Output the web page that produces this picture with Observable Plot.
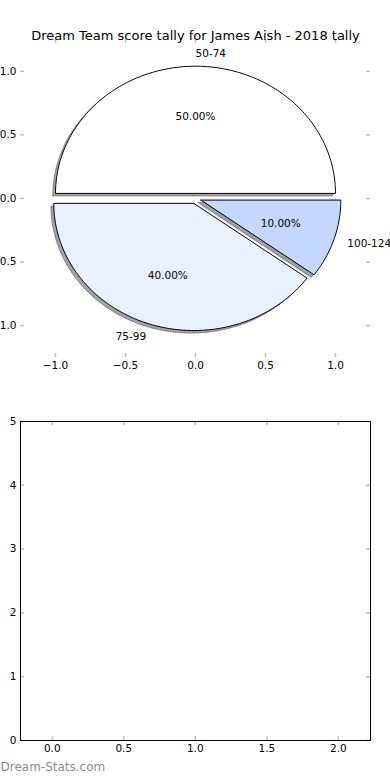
<!DOCTYPE html>
<html><head><meta charset="utf-8">
<script src="https://cdn.jsdelivr.net/npm/d3@7"></script>
<script src="https://cdn.jsdelivr.net/npm/@observablehq/plot@0.6"></script>
<style>
body{margin:0;background:#fff;}
#wrap{position:relative;width:390px;height:780px;overflow:hidden;background:#fff;}
#wrap svg{position:absolute;left:0;overflow:visible;}
</style></head><body><div id="wrap"></div>
<script>
// ---- data ----
const titleText = "Dream Team score tally for James Aish - 2018 tally";
const categories = ["50-74", "75-99", "100-124"];
const shares = [50, 40, 10];
const sliceColors = ["#ffffff", "#eaf0fe", "#c4d7ff"];
const explode = [0.04, 0.04, 0.04];
const pieTicks = [-1, -0.5, 0, 0.5, 1];
const emptyXTicks = [0, 0.5, 1, 1.5, 2];
const emptyYTicks = [0, 1, 2, 3, 4, 5];
const watermark = "Dream-Stats.com";

// ---- style ----
const FONT = "DejaVu Sans";
const tickGray = "#c0c0c0";
const W = 390;

// ---- pie geometry (matplotlib-like: start 0, counterclockwise) ----
const total = d3.sum(shares);
let acc = 0;
const slices = categories.map((c, i) => {
  const a0 = acc / total * 2 * Math.PI; acc += shares[i];
  const a1 = acc / total * 2 * Math.PI;
  const mid = (a0 + a1) / 2;
  const rgb = d3.rgb(sliceColors[i]);
  const shadow = d3.rgb(rgb.r * 0.3, rgb.g * 0.3, rgb.b * 0.3).formatHex();
  return {c, i, a0, a1, mid, ox: explode[i] * Math.cos(mid), oy: explode[i] * Math.sin(mid),
          pct: shares[i] / total * 100, color: sliceColors[i], shadow};
});
function wedge(s, dx, dy) {
  const pts = [{x: s.ox + dx, y: s.oy + dy}];
  const n = Math.ceil((s.a1 - s.a0) / (2 * Math.PI) * 360);
  for (let k = 0; k <= n; k++) {
    const a = s.a0 + (s.a1 - s.a0) * k / n;
    pts.push({x: s.ox + dx + Math.cos(a), y: s.oy + dy + Math.sin(a)});
  }
  pts.push({x: s.ox + dx, y: s.oy + dy});
  return pts.map(p => ({...p, c: s.c, color: s.color, shadow: s.shadow}));
}
const wedgePts = slices.flatMap(s => wedge(s, 0, 0));
const shadowPts = slices.flatMap(s => wedge(s, -0.02, -0.02));
const catLabels = slices.map(s => {
  const x = s.ox + 1.1 * Math.cos(s.mid), y = s.oy + 1.1 * Math.sin(s.mid);
  return {x, y, text: s.c, anchor: x > 0 ? "start" : "end"};
});
const pctLabels = slices.map(s => ({
  x: s.ox + 0.6 * Math.cos(s.mid), y: s.oy + 0.6 * Math.sin(s.mid), text: s.pct.toFixed(2) + "%"
}));

const fmt1 = d3.format(".1f");

// ---- top: pie ----
const topH = 380, topMT = 39, topMB = 23, ML = 20, MR = 20;
const topFH = topH - topMT - topMB, FW = W - ML - MR;
const pie = Plot.plot({
  width: W, height: topH, marginTop: topMT, marginBottom: topMB, marginLeft: ML, marginRight: MR,
  style: {fontFamily: FONT, fontSize: "10.5px", background: "transparent", overflow: "visible"},
  x: {domain: [-1.25, 1.25]},
  y: {domain: [-1.25, 1.25]},
  color: {type: "identity"},
  marks: [
    Plot.ruleX(pieTicks, {x: d => d, stroke: tickGray, strokeWidth: 1.5, insetTop: topFH - 4}),
    Plot.ruleX(pieTicks, {x: d => d, stroke: tickGray, strokeWidth: 1.5, insetBottom: topFH - 4}),
    Plot.ruleY(pieTicks, {y: d => d, stroke: tickGray, strokeWidth: 1.5, insetRight: FW - 4}),
    Plot.ruleY(pieTicks, {y: d => d, stroke: tickGray, strokeWidth: 1.5, insetLeft: FW - 4}),
    Plot.axisX({ticks: pieTicks, tickSize: 0, tickPadding: 4, tickFormat: fmt1, label: null, fill: "black"}),
    Plot.axisY({ticks: pieTicks, tickSize: 0, tickPadding: 4, tickFormat: fmt1, label: null, fill: "black"}),
    Plot.line(shadowPts, {x: "x", y: "y", z: "c", fill: "shadow", stroke: "shadow",
      fillOpacity: 0.5, strokeOpacity: 0.5, strokeWidth: 1, curve: "linear"}),
    Plot.line(wedgePts, {x: "x", y: "y", z: "c", fill: "color", stroke: "black",
      strokeWidth: 1, strokeLinejoin: "miter", curve: "linear"}),
    Plot.text(catLabels.filter(d => d.anchor === "start"), {x: "x", y: "y", text: "text", textAnchor: "start", fontSize: 10.5, fill: "black"}),
    Plot.text(catLabels.filter(d => d.anchor === "end"), {x: "x", y: "y", text: "text", textAnchor: "end", fontSize: 10.5, fill: "black"}),
    Plot.text(pctLabels, {x: "x", y: "y", text: "text", fontSize: 10.5, fill: "black"}),
    Plot.text([titleText], {frameAnchor: "top", dy: -9, text: d => d, fontSize: 13, fill: "black"})
  ]
});
pie.style.top = "0px";

// ---- bottom: empty axes ----
const botTop = 380, botH = 400, botMT = 41, botMB = 40;
const botFH = botH - botMT - botMB;
const empty = Plot.plot({
  width: W, height: botH, marginTop: botMT, marginBottom: botMB, marginLeft: ML, marginRight: MR,
  style: {fontFamily: FONT, fontSize: "10.5px", background: "transparent", overflow: "visible"},
  x: {domain: [-0.222, 2.225]},
  y: {domain: [0, 5]},
  marks: [
    Plot.ruleX(emptyXTicks, {x: d => d, stroke: tickGray, strokeWidth: 1.5, insetTop: botFH - 4}),
    Plot.ruleX(emptyXTicks, {x: d => d, stroke: tickGray, strokeWidth: 1.5, insetBottom: botFH - 4}),
    Plot.ruleY(emptyYTicks, {y: d => d, stroke: tickGray, strokeWidth: 1.5, insetRight: FW - 4}),
    Plot.ruleY(emptyYTicks, {y: d => d, stroke: tickGray, strokeWidth: 1.5, insetLeft: FW - 4}),
    Plot.frame({stroke: "black", strokeWidth: 1}),
    Plot.axisX({ticks: emptyXTicks, tickSize: 0, tickPadding: 4, tickFormat: fmt1, label: null, fill: "black"}),
    Plot.axisY({ticks: emptyYTicks, tickSize: 0, tickPadding: 4, tickFormat: d3.format("d"), label: null, fill: "black"}),
    Plot.text([watermark], {frameAnchor: "bottom-left", textAnchor: "start", dx: -ML, dy: 30,
      text: d => d, fontSize: 12, fill: "#8c8c8c"})
  ]
});
empty.style.top = botTop + "px";

const wrap = document.getElementById("wrap");
wrap.appendChild(pie);
wrap.appendChild(empty);
</script>
</body></html>
